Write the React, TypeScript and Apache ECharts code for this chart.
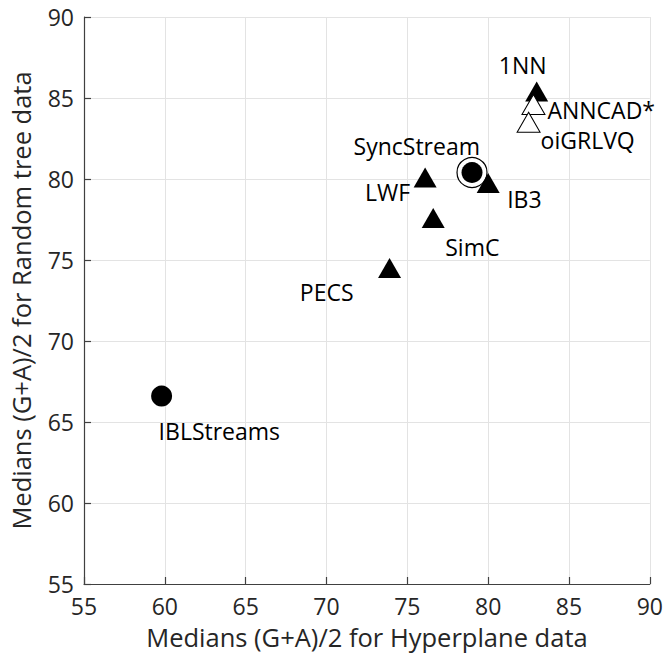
import React, { useEffect, useRef } from "react";
import * as echarts from "echarts";

// Filled triangles
const triNames = ["PECS", "SimC", "LWF", "IB3", "1NN"];
const triX = [73.9, 76.6, 76.1, 80.0, 83.0];
const triY = [74.5, 77.6, 80.1, 79.75, 85.4];
// Filled circles
const circNames = ["IBLStreams", "SyncStream"];
const circX = [59.8, 79.0];
const circY = [66.6, 80.4];
// Hollow triangles
const hollowNames = ["ANNCAD*", "oiGRLVQ"];
const hollowX = [82.8, 82.5];
const hollowY = [84.6, 83.5];
// Highlighted (ringed) method
const ringName = "SyncStream";

const axisTicks = [55, 60, 65, 70, 75, 80, 85, 90];

// label placement: anchor align, dx, dy (px from marker centre)
const labelPlace: Record<string, [string, number, number]> = {
  IBLStreams: ["left", -3, 35],
  SyncStream: ["right", 8, -27],
  PECS: ["right", -36, 24],
  SimC: ["left", 12, 29],
  LWF: ["right", -15, 15],
  IB3: ["left", 19, 16],
  "1NN": ["center", -14, -27],
  "ANNCAD*": ["left", 14, 6],
  oiGRLVQ: ["left", 12, 18],
};

const FONT = "'Open Sans', 'Noto Sans', sans-serif";

function mk(names: string[], xs: number[], ys: number[]) {
  return names.map((n, i) => {
    const p = labelPlace[n];
    return {
      name: n,
      value: [xs[i], ys[i]],
      label: {
        show: true,
        position: "inside",
        align: p[0],
        verticalAlign: "middle",
        offset: [p[1], p[2]],
        formatter: n,
        color: "#000",
        opacity: 1,
        fontSize: 23,
        lineHeight: 22,
        fontFamily: FONT,
      },
    };
  });
}

export default function App() {
  const ref = useRef<HTMLDivElement>(null);
  useEffect(() => {
    if (!ref.current) return;
    const chart = echarts.init(ref.current, undefined, { renderer: "svg" });
    const axisCommon = {
      type: "value",
      min: axisTicks[0],
      max: axisTicks[axisTicks.length - 1],
      interval: 5,
      nameLocation: "middle",
      nameTextStyle: { fontSize: 25.5, lineHeight: 24, color: "#262626", fontFamily: FONT },
      axisLine: { show: true, onZero: false, lineStyle: { color: "#404040", width: 1.2 } },
      axisTick: { show: true, inside: true, length: 7, lineStyle: { color: "#404040", width: 1.2 } },
      axisLabel: { fontSize: 23, lineHeight: 21, color: "#262626", fontFamily: FONT },
      splitLine: { show: true, lineStyle: { color: "#e3e3e3", width: 1 } },
    };
    chart.setOption({
      animation: false,
      grid: { left: 82, right: 16, top: 17, bottom: 72, containLabel: false },
      xAxis: {
        ...axisCommon,
        name: "Medians (G+A)/2 for Hyperplane data",
        nameGap: 41,
        axisLabel: { ...axisCommon.axisLabel, margin: 11 },
      },
      yAxis: {
        ...axisCommon,
        name: "Medians (G+A)/2 for Random tree data",
        nameGap: 51,
        axisLabel: { ...axisCommon.axisLabel, margin: 10 },
      },
      series: [
        {
          type: "scatter",
          silent: true,
          symbol: "circle",
          symbolSize: 30,
          itemStyle: { color: "#fff", borderColor: "#000", borderWidth: 1.2, opacity: 1 },
          data: circNames
            .map((n, i) => (n === ringName ? { name: n, value: [circX[i], circY[i]] } : null))
            .filter(Boolean),
          z: 2,
        },
        {
          type: "scatter",
          silent: true,
          symbol: "circle",
          symbolSize: 21,
          itemStyle: { color: "#000", opacity: 1 },
          data: mk(circNames, circX, circY),
          z: 3,
        },
        {
          type: "scatter",
          silent: true,
          symbol: "triangle",
          symbolSize: [23, 20],
          itemStyle: { color: "#000", opacity: 1 },
          data: mk(triNames, triX, triY),
          z: 4,
        },
        {
          type: "scatter",
          silent: true,
          symbol: "triangle",
          symbolSize: [23, 20],
          itemStyle: { color: "#fff", borderColor: "#000", borderWidth: 1, opacity: 1 },
          data: mk(hollowNames, hollowX, hollowY),
          z: 5,
        },
      ],
    });
    return () => chart.dispose();
  }, []);
  return (
    <div
      ref={ref}
      style={{ position: "absolute", left: 0, top: 0, width: 666, height: 656 }}
    />
  );
}
